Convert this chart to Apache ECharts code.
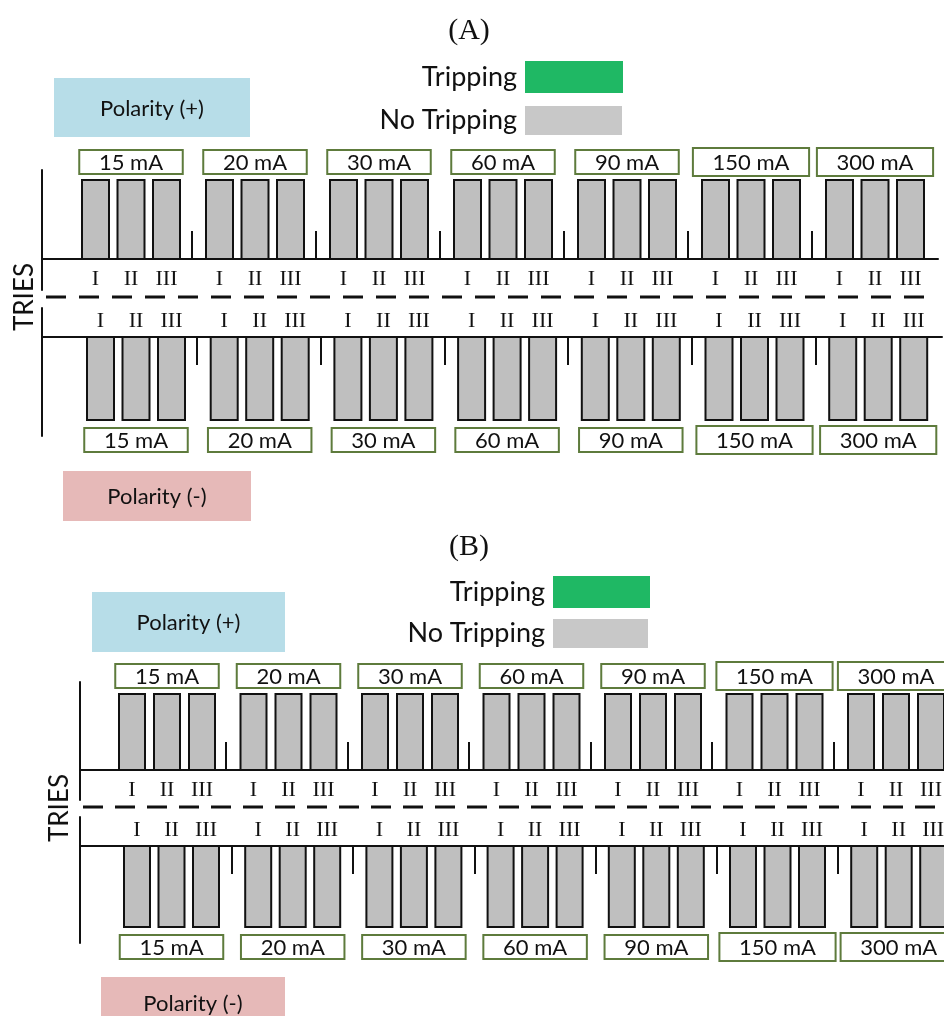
<!DOCTYPE html>
<html><head><meta charset="utf-8">
<script src="https://cdn.jsdelivr.net/npm/echarts@6/dist/echarts.min.js"></script>
<style>html,body{margin:0;padding:0;background:#fff}#c{width:944px;height:1016px}</style>
</head><body><div id="c"></div>
<script>
// ---------- data ----------
const CURRENTS = ['15 mA', '20 mA', '30 mA', '60 mA', '90 mA', '150 mA', '300 mA'];
const TRIES = ['I', 'II', 'III'];
const STATUS_NAMES = ['No Tripping', 'Tripping'];
// status per current (rows) and try (cols): 0 = no tripping, 1 = tripping
const A_POSITIVE = [[0,0,0],[0,0,0],[0,0,0],[0,0,0],[0,0,0],[0,0,0],[0,0,0]];
const A_NEGATIVE = [[0,0,0],[0,0,0],[0,0,0],[0,0,0],[0,0,0],[0,0,0],[0,0,0]];
const B_POSITIVE = [[0,0,0],[0,0,0],[0,0,0],[0,0,0],[0,0,0],[0,0,0],[0,0,0]];
const B_NEGATIVE = [[0,0,0],[0,0,0],[0,0,0],[0,0,0],[0,0,0],[0,0,0],[0,0,0]];

// ---------- layout / styles ----------
const COLORS = { 'No Tripping': '#bfbfbf', 'Tripping': '#1fb864' };
const PANELS = [
  { status: A_POSITIVE, dir: 1,  axisX: 42, lineEnd: 938, axisTop: 170, axisBottom: 290, base: 259, first: 82,  period: 124,   step: 35.5, barW: 27, sep: 110, barH: 79, romanDy: 20,  boxGap: 6 },
  { status: A_NEGATIVE, dir: -1, axisX: 42, lineEnd: 942, axisTop: 308, axisBottom: 436, base: 337, first: 87,  period: 123.7, step: 35.5, barW: 27, sep: 110, barH: 83, romanDy: -16, boxGap: 8 },
  { status: B_POSITIVE, dir: 1,  axisX: 80, lineEnd: 960, axisTop: 682, axisBottom: 800, base: 770, first: 119, period: 121.5, step: 35,   barW: 26, sep: 107, barH: 76, romanDy: 20,  boxGap: 6 },
  { status: B_NEGATIVE, dir: -1, axisX: 80, lineEnd: 960, axisTop: 817, axisBottom: 943, base: 846, first: 124, period: 121.2, step: 34.5, barW: 26, sep: 108, barH: 81, romanDy: -16, boxGap: 8 }
];
const SANS = 'Lato';
const SERIF = '"Liberation Serif"';

function barRender(p) {
  return function (params, api) {
    const g = api.value(0), t = api.value(1);
    const x0 = g + t * p.step / p.period;
    const a = api.coord([x0, 0]);
    const b = api.coord([x0 + p.barW / p.period, p.dir * p.barH]);
    const y = Math.min(a[1], b[1]), h = Math.abs(a[1] - b[1]);
    return { type: 'group', children: [
      { type: 'rect', shape: { x: a[0], y: y, width: b[0] - a[0], height: h },
        style: { fill: api.visual('color'), stroke: '#111', lineWidth: 2 } },
      { type: 'text', style: { text: TRIES[t], x: (a[0] + b[0]) / 2, y: a[1] + p.romanDy,
        align: 'center', verticalAlign: 'middle', font: '22px ' + SERIF, fill: '#111' } }
    ] };
  };
}
function boxRender(p) {
  return function (params, api) {
    const g = api.value(0);
    const txt = CURRENTS[g];
    const cx = api.coord([g + (p.step + p.barW / 2) / p.period, 0])[0];
    const baseY = api.coord([0, 0])[1];
    const w = 40 + 12.7 * txt.length, h = txt.length > 5 ? 28 : 24;
    const cy = p.dir > 0 ? baseY - p.barH - p.boxGap - 12 : baseY + p.barH + p.boxGap + 12;
    const y = cy - h / 2;
    return { type: 'group', children: [
      { type: 'rect', shape: { x: cx - w / 2, y: y, width: w, height: h },
        style: { fill: '#fff', stroke: '#5e7b3c', lineWidth: 2 } },
      { type: 'text', style: { text: txt, x: cx, y: cy + 1, align: 'center', verticalAlign: 'middle',
        font: '22px ' + SANS, fill: '#111' } }
    ] };
  };
}

const grid = [], xAxis = [], yAxis = [], series = [];
PANELS.forEach((p, i) => {
  grid.push({ left: p.axisX, top: p.axisTop, width: p.lineEnd - p.axisX, height: p.axisBottom - p.axisTop, containLabel: false, outerBoundsMode: 'none' });
  xAxis.push({ type: 'value', gridIndex: i, min: (p.axisX - p.first) / p.period, max: (p.lineEnd - p.first) / p.period,
    position: p.dir > 0 ? 'bottom' : 'top',
    axisLine: { show: true, onZero: true, lineStyle: { color: '#111', width: 2 } },
    axisTick: { show: true, inside: true, length: 28, customValues: CURRENTS.slice(1).map((c, g) => g + p.sep / p.period),
      lineStyle: { color: '#111', width: 2 } },
    axisLabel: { show: false }, splitLine: { show: false } });
  yAxis.push({ type: 'value', gridIndex: i, min: -(p.axisBottom - p.base), max: p.base - p.axisTop,
    axisLine: { show: true, onZero: false, lineStyle: { color: '#111', width: 2 } },
    axisTick: { show: false }, axisLabel: { show: false }, splitLine: { show: false } });
  const items = [];
  p.status.forEach((row, g) => row.forEach((s, t) => items.push([g, t, s])));
  STATUS_NAMES.forEach((name, s) => {
    series.push({ type: 'custom', name: name, xAxisIndex: i, yAxisIndex: i, coordinateSystem: 'cartesian2d',
      itemStyle: { color: COLORS[name] }, renderItem: barRender(p), silent: true,
      data: items.filter(d => d[2] === s) });
  });
  series.push({ type: 'custom', name: 'currents', xAxisIndex: i, yAxisIndex: i, coordinateSystem: 'cartesian2d',
    renderItem: boxRender(p), silent: true, data: CURRENTS.map((c, g) => [g, 0]) });
});

function legendItem(name, right, top, w, h, color) {
  return { data: [{ name: name, icon: 'rect', itemStyle: { color: color, borderWidth: 0 } }],
    right: right, top: top, itemWidth: w, itemHeight: h, align: 'right', padding: 0, selectedMode: false,
    textStyle: { fontFamily: SANS, fontSize: 27, color: '#111', padding: [0, 3, 0, 0] } };
}

function polarity(x, y, w, h, fill, txt) {
  return [
    { type: 'rect', shape: { x: x, y: y, width: w, height: h }, style: { fill: fill } },
    { type: 'text', style: { text: txt, x: x + w / 2, y: y + h / 2 + 1, align: 'center', verticalAlign: 'middle', font: '22px ' + SANS, fill: '#111' } }
  ];
}

const graphic = [
  { type: 'text', style: { text: '(A)', x: 469, y: 31, align: 'center', verticalAlign: 'middle', font: '30px ' + SERIF, fill: '#111' } },
  { type: 'text', style: { text: '(B)', x: 469, y: 547, align: 'center', verticalAlign: 'middle', font: '30px ' + SERIF, fill: '#111' } },
  ...polarity(54, 78, 196, 59, '#b7dde8', 'Polarity (+)'),
  ...polarity(63, 471, 188, 50, '#e6b9b8', 'Polarity (-)'),
  ...polarity(92, 592, 193, 60, '#b7dde8', 'Polarity (+)'),
  ...polarity(101, 977, 184, 52, '#e6b9b8', 'Polarity (-)'),
  { type: 'text', x: 25, y: 297, rotation: Math.PI / 2, style: { text: 'TRIES', align: 'center', verticalAlign: 'middle', font: '26px ' + SANS, fill: '#111' } },
  { type: 'text', x: 60, y: 808, rotation: Math.PI / 2, style: { text: 'TRIES', align: 'center', verticalAlign: 'middle', font: '26px ' + SANS, fill: '#111' } },
  { type: 'line', shape: { x1: 46, y1: 297, x2: 925, y2: 297 }, style: { stroke: '#111', lineWidth: 3, lineDash: [20, 13] } },
  { type: 'line', shape: { x1: 83, y1: 807, x2: 944, y2: 807 }, style: { stroke: '#111', lineWidth: 3, lineDash: [20, 12] } }
];

const chart = echarts.init(document.getElementById('c'), null, { renderer: 'canvas' });
chart.setOption({
  animation: false,
  backgroundColor: '#fff',
  textStyle: { fontFamily: SANS },
  grid, xAxis, yAxis, series, graphic,
  legend: [
    legendItem('Tripping', 321, 61, 98, 32, COLORS['Tripping']),
    legendItem('No Tripping', 322, 106, 97, 29, '#c8c8c8'),
    legendItem('Tripping', 294, 576, 97, 32, COLORS['Tripping']),
    legendItem('No Tripping', 296, 619, 95, 29, '#c8c8c8')
  ]
});
</script></body></html>
